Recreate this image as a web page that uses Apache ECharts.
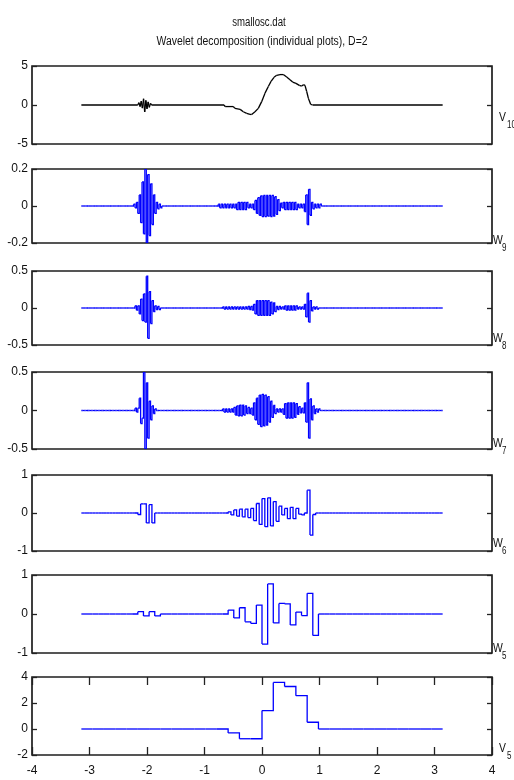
<!DOCTYPE html>
<html>
<head>
<meta charset="utf-8">
<script src="https://cdn.jsdelivr.net/npm/echarts@6/dist/echarts.min.js"></script>
<style>
html, body { margin: 0; padding: 0; background: #fff; }
#main { width: 514px; height: 780px; }
</style>
</head>
<body>
<div id="main"></div>
<script>
var PI = Math.PI;

// V10: hand-read (x, y) samples of the top curve
var v10X = [-3.1416, -2.16, -2.14, -2.12, -2.10, -2.08, -2.06, -2.04, -2.02, -2.00, -1.98, -1.96, -1.94, -1.92,
	-0.66, -0.64, -0.50, -0.47, -0.38, -0.325, -0.267, -0.209, -0.18, -0.122, -0.064, -0.006, 0.052, 0.11,
	0.157, 0.209, 0.255, 0.313, 0.371, 0.429, 0.487, 0.533, 0.591, 0.649, 0.69, 0.719, 0.748, 0.777,
	0.806, 0.846, 0.881, 3.1416];
var v10Y = [0, 0, 0.3, -0.2, 0.5, -0.4, 0.8, -0.9, 0.6, -0.5, 0.4, -0.3, 0.2, 0,
	0, -0.2, -0.2, -0.43, -0.56, -0.87, -1.08, -1.21, -1.21, -0.87, -0.43, 0.43, 1.52, 2.38,
	3.03, 3.55, 3.81, 3.9, 3.9, 3.59, 3.25, 2.94, 2.77, 2.51, 2.42, 2.6, 2.51, 1.73,
	0.87, 0.09, 0, 0];

// W9, W8, W7 drawn on a 256-step grid over [-pi, pi]; [start step, values]
var w9Left = [37, [0.01, -0.01, 0.02, -0.04, 0.06, -0.09, 0.13, -0.15, 0.2, -0.2, 0.17, -0.16, 0.12, -0.1, 0.06, -0.04, 0.02, -0.015, 0.01, -0.01]];
var w9Mid = [97, [0.01, -0.01, 0.01, -0.01, 0.01, -0.01, 0.01, -0.01, 0.01, -0.01, 0.01, -0.01, 0.01,
	-0.02, 0.02, -0.02, 0.02, -0.02, 0.02, -0.02, 0.02,
	-0.01, 0.01, -0.01, 0.01,
	-0.02, 0.03, -0.04, 0.045, -0.05, 0.055,
	-0.057, 0.057, -0.057, 0.057, -0.055, 0.057, -0.057, 0.057,
	-0.055, 0.05, -0.045, 0.035, -0.025, 0.015, -0.01,
	0.02, -0.02, 0.02, -0.02, 0.02, -0.02, 0.02, -0.02, 0.02, -0.02,
	0.01, -0.01, 0.01, -0.01, 0.01,
	-0.03, 0.06, -0.1, 0.09, -0.05,
	0.02, -0.015, 0.01, -0.01, 0.01, -0.01, 0.01]];

var w8Left = [38, [0.03, -0.03, 0.03, -0.08, 0.12, -0.17, 0.19, -0.19, 0.43, -0.41, 0.22, -0.21, 0.1, -0.05, 0.03, -0.02, 0.02, -0.02]];
var w8Mid = [100, [0.015, -0.015, 0.015, -0.015, 0.015, -0.015, 0.015, -0.015, 0.015, -0.015, 0.015, -0.015,
	0.015, -0.015, 0.015, -0.015, 0.015, -0.015, 0.02, -0.02, 0.02,
	-0.03, 0.05, -0.08, 0.1, -0.1, 0.1, -0.1, 0.1, -0.1, 0.1, -0.1, 0.1, -0.1, 0.08, -0.08, 0.07, -0.05,
	0.02, -0.02, 0.02, -0.015, 0.015, -0.015,
	0.03, -0.03, 0.03, -0.03, 0.03, -0.03, 0.03, -0.03, 0.03,
	-0.015, 0.015, -0.015, 0.015, -0.015,
	0.05, -0.12, 0.2, -0.19, 0.1, -0.04,
	0.015, -0.015, 0.015, -0.015]];

var w7Left = [38, [0.03, -0.02, 0.03, 0.16, -0.17, -0.1, 0.5, -0.5, 0.36, -0.36, 0.12, -0.12, 0.06, -0.04, 0.02]];
var w7Mid = [100, [0.02, -0.02, 0.02, -0.02, 0.02, -0.02, 0.02, -0.02,
	0.04, -0.06, 0.06, -0.07, 0.07, -0.07, 0.07, -0.06, 0.06, -0.04, 0.04, -0.04, 0.03,
	-0.06, 0.1, -0.12, 0.16, -0.18, 0.2, -0.21, 0.21, -0.2, 0.2, -0.19, 0.18, -0.15, 0.12, -0.09, 0.065, -0.04,
	0.02, -0.02, 0.02, -0.02, 0.02,
	-0.05, 0.09, -0.1, 0.1, -0.1, 0.1, -0.1, 0.1, -0.09, 0.09, -0.05, 0.05,
	-0.03, 0.03, -0.03,
	0.1, -0.15, 0.36, -0.36, 0.15, -0.12, 0.06, -0.04,
	0.02, -0.02, 0.02]];

// W6 on 128 steps, W5 on 64 steps, V5 on 32 steps
var w6Left = [20, [-0.04, 0.24, 0.24, -0.26, 0.22, -0.26]];
var w6Mid = [52, [0.03, -0.05, 0.08, -0.08, 0.1, -0.1, 0.1, -0.12, 0.12, -0.2, 0.25, -0.3, 0.38, -0.36, 0.4, -0.34,
	0.3, -0.22, 0.18, -0.05, 0.12, -0.15, 0.15, -0.15, 0.12, -0.03, -0.05, 0, 0.6, -0.58, -0.04, 0]];

var w5Left = [10, [0.06, -0.05, 0.06, -0.05]];
var w5Mid = [26, [0.1, -0.1, 0.16, -0.2, -0.24, 0.23, -0.77, 0.77, -0.23, 0.27, 0.26, -0.28, 0.05, -0.04, 0.53, -0.55]];

var v5Mid = [13, [-0.3, -0.75, -0.75, 1.42, 3.58, 3.27, 2.56, 0.52]];

var rowNames = ['V', 'W', 'W', 'W', 'W', 'W', 'V'];
var rowSubs = ['10', '9', '8', '7', '6', '5', '5'];
var yMin = [-5, -0.2, -0.5, -0.5, -1, -1, -2];
var yMax = [5, 0.2, 0.5, 0.5, 1, 1, 4];
var yStep = [5, 0.2, 0.5, 0.5, 1, 1, 2];

// layout
var panelTop = [66, 169, 271, 372, 475, 575, 677];
var panelH = [78, 74, 74, 77, 76, 78, 78];
var nameY = [117, 240, 338, 443, 543, 648, 748];
var FONT = "'Liberation Sans', Arial, sans-serif";

// each item: [xFrom, xTo, yFrom, yTo]
function stepItems(n, segs) {
	var vals = [];
	for (var j = 0; j <= n; j++) vals.push(0);
	segs.forEach(function(s) {
		for (var i = 0; i < s[1].length; i++) vals[s[0] + i] = s[1][i];
	});
	var items = [];
	for (var k = 0; k < n; k++) {
		items.push([-PI + k * 2 * PI / n, -PI + (k + 1) * 2 * PI / n, vals[k], vals[k + 1]]);
	}
	return items;
}

function lineItems(xs, ys) {
	var items = [];
	for (var i = 0; i < xs.length - 1; i++) items.push([xs[i], xs[i + 1], ys[i], ys[i + 1]]);
	return items;
}

var rowData = [
	lineItems(v10X, v10Y),
	stepItems(256, [w9Left, w9Mid]),
	stepItems(256, [w8Left, w8Mid]),
	stepItems(256, [w7Left, w7Mid]),
	stepItems(128, [w6Left, w6Mid]),
	stepItems(64, [w5Left, w5Mid]),
	stepItems(32, [v5Mid])
];

// the hold-then-jump segment of a step trace (or a plain segment for V10)
function makeRender(isStep, color, width) {
	return function(params, api) {
		var a = api.value(0), b = api.value(1), c = api.value(2), d = api.value(3);
		var pts = isStep ? [api.coord([a, c]), api.coord([b, c]), api.coord([b, d])]
			: [api.coord([a, c]), api.coord([b, d])];
		return {
			type: 'polyline',
			shape: { points: pts },
			style: { stroke: color, lineWidth: width, fill: null, lineJoin: 'miter' },
			silent: true
		};
	};
}

var tickStyle = { color: '#222', width: 1.3 };
var grids = [], xAxes = [], yAxes = [], series = [], graphics = [];
for (var i = 0; i < 7; i++) {
	var last = (i == 6);
	grids.push({
		left: 32, right: 22, top: panelTop[i], height: panelH[i],
		show: true, borderColor: '#1e1e1e', borderWidth: 1.7, backgroundColor: 'transparent'
	});
	xAxes.push({
		type: 'value', gridIndex: i, min: -4, max: 4, interval: 1, position: 'bottom',
		axisLine: { show: false, onZero: false },
		axisTick: { show: last, inside: true, length: 8, lineStyle: tickStyle },
		axisLabel: { show: last, margin: 10, color: '#111', fontSize: 12, fontFamily: FONT },
		splitLine: { show: false }
	});
	var yl = {
		type: 'value', gridIndex: i, min: yMin[i], max: yMax[i], interval: yStep[i],
		axisLine: { show: false, onZero: false },
		axisTick: { show: true, inside: true, length: 5, lineStyle: tickStyle },
		splitLine: { show: false }
	};
	yAxes.push(Object.assign({}, yl, {
		position: 'left',
		axisLabel: { show: true, margin: 4, color: '#111', fontSize: 12, fontFamily: FONT }
	}));
	yAxes.push(Object.assign({}, yl, { position: 'right', axisLabel: { show: false } }));
	series.push({
		type: 'custom',
		xAxisIndex: i,
		yAxisIndex: 2 * i,
		data: rowData[i],
		encode: { x: [0, 1], y: [2, 3] },
		clip: true,
		silent: true,
		renderItem: makeRender(i != 0, i == 0 ? '#000' : '#0000ff', i == 0 ? 1.3 : 1.3)
	});
	var wide = rowNames[i] == 'W';
	graphics.push({
		type: 'text', x: wide ? 493 : 499, y: nameY[i], scaleX: 0.8,
		style: { text: rowNames[i], fill: '#111', font: '13px ' + FONT, verticalAlign: 'middle', textVerticalAlign: 'middle' }
	});
	graphics.push({
		type: 'text', x: wide ? 502 : 507, y: nameY[i] + 8, scaleX: 0.8,
		style: { text: rowSubs[i], fill: '#111', font: '10px ' + FONT, verticalAlign: 'middle', textVerticalAlign: 'middle' }
	});
}
// mirrored ticks on top edge of the bottom plot
xAxes.push({
	type: 'value', gridIndex: 6, position: 'top', min: -4, max: 4, interval: 1,
	axisLine: { show: false, onZero: false },
	axisTick: { show: true, inside: true, length: 8, lineStyle: tickStyle },
	axisLabel: { show: false },
	splitLine: { show: false }
});

graphics.push({
	type: 'text', x: 259, y: 23, scaleX: 0.8,
	style: { text: 'smallosc.dat', fill: '#111', font: '12px ' + FONT,
		align: 'center', textAlign: 'center', verticalAlign: 'middle', textVerticalAlign: 'middle' }
});
graphics.push({
	type: 'text', x: 262, y: 42, scaleX: 0.87,
	style: { text: 'Wavelet decomposition (individual plots), D=2', fill: '#111', font: '12px ' + FONT,
		align: 'center', textAlign: 'center', verticalAlign: 'middle', textVerticalAlign: 'middle' }
});

var option = {
	animation: false,
	backgroundColor: '#fff',
	grid: grids,
	xAxis: xAxes,
	yAxis: yAxes,
	series: series,
	graphic: graphics
};
var myChart = echarts.init(document.getElementById('main'));
myChart.setOption(option);
</script>
</body>
</html>
